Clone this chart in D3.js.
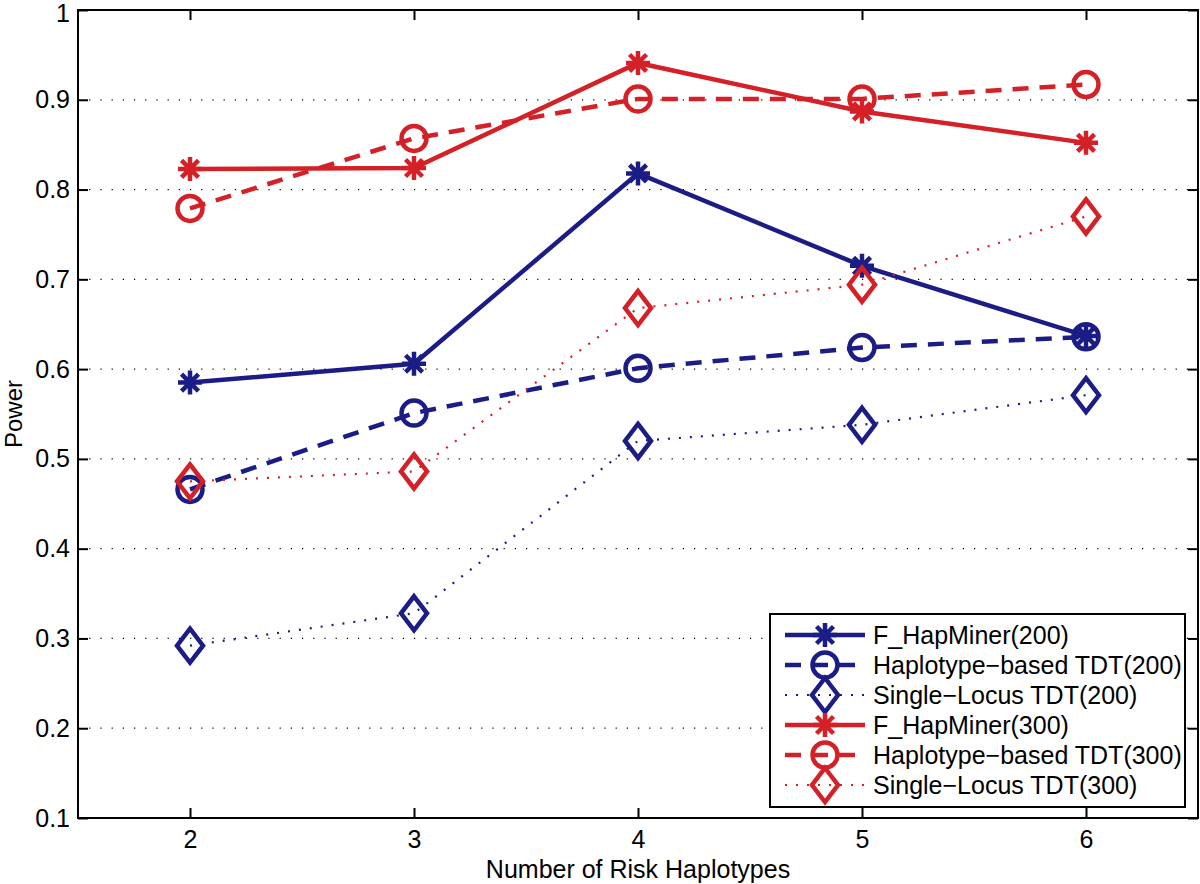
<!DOCTYPE html>
<html>
<head>
<meta charset="utf-8">
<script src="https://cdn.jsdelivr.net/npm/d3@7"></script>
<style>
  body { margin: 0; background: #fff; }
  svg text { font-family: "Liberation Sans", Arial, sans-serif; fill: #000; }
</style>
</head>
<body>
<div id="chart"></div>
<script>
const haplotypes = [2, 3, 4, 5, 6];
const yTicks = [0.1, 0.2, 0.3, 0.4, 0.5, 0.6, 0.7, 0.8, 0.9, 1];

const seriesNames = [
  "F_HapMiner(200)",
  "Haplotype\u2212based TDT(200)",
  "Single\u2212Locus TDT(200)",
  "F_HapMiner(300)",
  "Haplotype\u2212based TDT(300)",
  "Single\u2212Locus TDT(300)"
];

const hapMiner200 = [0.585, 0.606, 0.818, 0.715, 0.637];
const hapTDT200   = [0.466, 0.551, 0.601, 0.624, 0.636];
const singleTDT200 = [0.292, 0.328, 0.520, 0.538, 0.571];
const hapMiner300 = [0.823, 0.824, 0.941, 0.887, 0.852];
const hapTDT300   = [0.779, 0.857, 0.901, 0.901, 0.917];
const singleTDT300 = [0.475, 0.486, 0.668, 0.694, 0.770];

const blue = "#1c1c86";
const red = "#d42027";

const series = [
  {name: seriesNames[0], values: hapMiner200, color: blue, dash: null, width: 4.5, marker: "star"},
  {name: seriesNames[1], values: hapTDT200, color: blue, dash: "16,11", width: 4.5, marker: "circle"},
  {name: seriesNames[2], values: singleTDT200, color: blue, dash: "2,9", width: 2.2, marker: "diamond"},
  {name: seriesNames[3], values: hapMiner300, color: red, dash: null, width: 4.5, marker: "star"},
  {name: seriesNames[4], values: hapTDT300, color: red, dash: "16,11", width: 4.5, marker: "circle"},
  {name: seriesNames[5], values: singleTDT300, color: red, dash: "2,9", width: 2.2, marker: "diamond"}
];

const W = 1200, H = 884;
const margin = {top: 10, right: 2, bottom: 66, left: 78};
const width = W - margin.left - margin.right;
const height = H - margin.top - margin.bottom;

const svg = d3.select("#chart").append("svg")
  .attr("width", W)
  .attr("height", H);

const chart = svg.append("g")
  .attr("transform", `translate(${margin.left},${margin.top})`);

const x = d3.scaleLinear().domain([1.5, 6.5]).range([0, width]);
const y = d3.scaleLinear().domain([0.1, 1]).range([height, 0]);

// dotted grid
chart.append("g")
  .selectAll("line")
  .data(yTicks.filter(d => d > 0.1 && d < 1))
  .join("line")
  .attr("x1", 0).attr("x2", width)
  .attr("y1", d => y(d)).attr("y2", d => y(d))
  .attr("stroke", "#000")
  .attr("stroke-width", 1.2)
  .attr("stroke-dasharray", "1.2,10");

// axes (ticks pointing inward, on all four sides)
const tickLen = 10;
const yAxis = chart.append("g")
  .call(d3.axisLeft(y).tickValues(yTicks).tickSize(-tickLen).tickPadding(8)
    .tickFormat(d => d === 1 ? "1" : d3.format(".1f")(d)));
const yAxisR = chart.append("g")
  .attr("transform", `translate(${width},0)`)
  .call(d3.axisRight(y).tickValues(yTicks).tickSize(-tickLen).tickFormat(""));
const xAxis = chart.append("g")
  .attr("transform", `translate(0,${height})`)
  .call(d3.axisBottom(x).tickValues(haplotypes).tickSize(-tickLen).tickPadding(12)
    .tickFormat(d3.format("d")));
const xAxisT = chart.append("g")
  .call(d3.axisTop(x).tickValues(haplotypes).tickSize(-tickLen).tickFormat(""));

[yAxis, yAxisR, xAxis, xAxisT].forEach(a => {
  a.select(".domain").remove();
  a.selectAll(".tick line").attr("stroke", "#000").attr("stroke-width", 2);
  a.selectAll("text").style("font-size", "25px").attr("fill", "#000");
});
xAxis.selectAll("text").attr("dy", "0.71em");
// keep the top "1" label inside the picture
yAxis.selectAll(".tick").filter(d => d === 1).select("text").attr("dy", "0.45em");

chart.append("rect")
  .attr("width", width).attr("height", height)
  .attr("fill", "none")
  .attr("stroke", "#000")
  .attr("stroke-width", 2);

// markers
function drawMarker(g, type, color) {
  if (type === "star") {
    const r = 12;
    const path = d3.path();
    for (let i = 0; i < 4; i++) {
      const a = i * Math.PI / 4;
      path.moveTo(-r * Math.cos(a), -r * Math.sin(a));
      path.lineTo(r * Math.cos(a), r * Math.sin(a));
    }
    g.append("path").attr("d", path.toString())
      .attr("stroke", color).attr("stroke-width", 4.5).attr("fill", "none");
  } else if (type === "circle") {
    g.append("circle").attr("r", 12.5)
      .attr("stroke", color).attr("stroke-width", 4.5).attr("fill", "none");
  } else {
    g.append("path").attr("d", "M0,-17L13,0L0,17L-13,0Z")
      .attr("stroke", color).attr("stroke-width", 4.5).attr("fill", "none")
      .attr("stroke-linejoin", "miter");
  }
}

const line = d3.line().x((d, i) => x(haplotypes[i])).y(d => y(d));

series.forEach(s => {
  const g = chart.append("g");
  g.append("path")
    .attr("d", line(s.values))
    .attr("fill", "none")
    .attr("stroke", s.color)
    .attr("stroke-width", s.width)
    .attr("stroke-dasharray", s.dash);
  s.values.forEach((v, i) => {
    const m = g.append("g").attr("transform", `translate(${x(haplotypes[i])},${y(v)})`);
    drawMarker(m, s.marker, s.color);
  });
});

// axis labels
svg.append("text")
  .attr("x", margin.left + width / 2)
  .attr("y", 878)
  .attr("text-anchor", "middle")
  .style("font-size", "25px")
  .text("Number of Risk Haplotypes");

svg.append("text")
  .attr("transform", `translate(22,${margin.top + height / 2}) rotate(-90)`)
  .attr("text-anchor", "middle")
  .style("font-size", "24px")
  .text("Power");

// legend
const legend = svg.append("g").attr("transform", "translate(770,614)");
legend.append("rect")
  .attr("width", 415).attr("height", 193)
  .attr("fill", "#fff")
  .attr("stroke", "#000")
  .attr("stroke-width", 2);

series.forEach((s, i) => {
  const row = legend.append("g").attr("transform", `translate(0,${21 + i * 30})`);
  row.append("line")
    .attr("x1", 15).attr("x2", 95)
    .attr("stroke", s.color)
    .attr("stroke-width", s.width)
    .attr("stroke-dasharray", s.dash);
  const m = row.append("g").attr("transform", "translate(55,0)");
  drawMarker(m, s.marker, s.color);
  row.append("text")
    .attr("x", 103)
    .attr("dy", "0.35em")
    .style("font-size", "25px")
    .text(s.name);
});
</script>
</body>
</html>
